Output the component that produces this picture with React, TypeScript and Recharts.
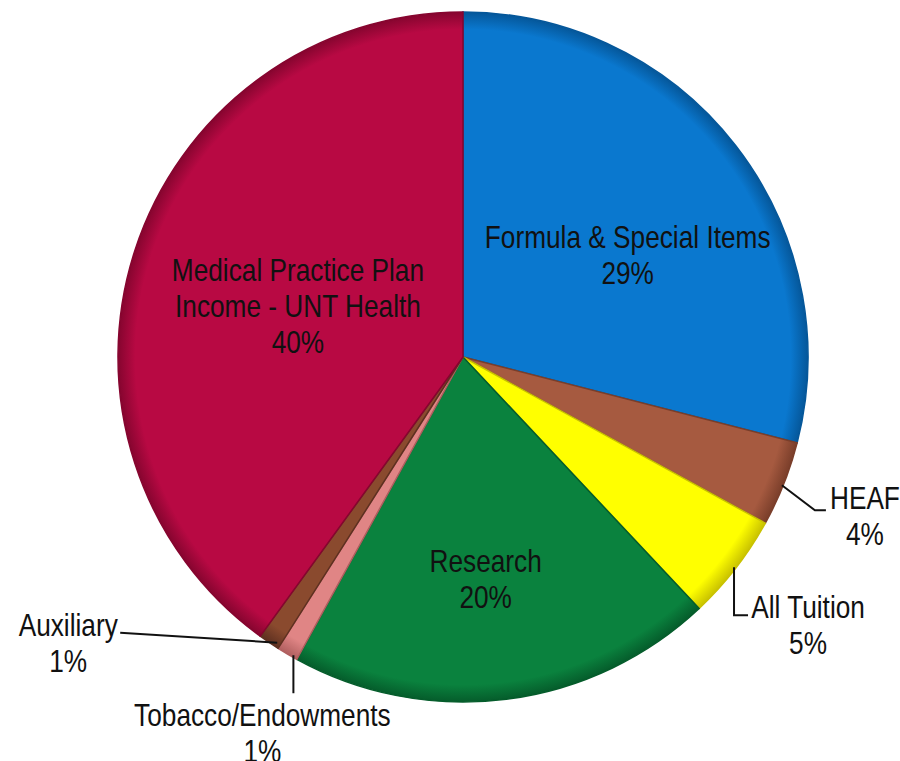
import { PieChart, Pie, Cell } from 'recharts'

const categories = ['Formula & Special Items', 'HEAF', 'All Tuition', 'Research', 'Tobacco/Endowments', 'Auxiliary', 'Medical Practice Plan Income - UNT Health']
const shares = [29, 4, 5, 20, 1, 1, 40]
const percentLabels = ['29%', '4%', '5%', '20%', '1%', '1%', '40%']
const labelLines = [['Formula & Special Items'], ['HEAF'], ['All Tuition'], ['Research'], ['Tobacco/Endowments'], ['Auxiliary'], ['Medical Practice Plan', 'Income - UNT Health']]

const colors = ['#0a78cf', '#a65a40', '#ffff00', '#0a823e', '#e08585', '#8a4a2e', '#b80943']
const edgeColors = ['#05579a', '#7a3e2a', '#c9c200', '#055c2b', '#b05f5f', '#5e3020', '#86052f']

const data = categories.map((name, i) => ({ name, value: shares[i] }))

const FONT = '"Liberation Sans", Arial, sans-serif'
const RAD = Math.PI / 180
const CX = 463
const CY = 357
const R = 345
const LINE_H = 36

// inside labels: radius factor plus a nudge
const insidePos: Record<number, { f: number; dx: number; dy: number }> = {
    0: { f: 0.56, dx: 12, dy: 16 },
    3: { f: 0.64, dx: -5, dy: 3 },
    6: { f: 0.5, dx: -1, dy: 2 },
}

function Label({ x, y, lines }: { x: number; y: number; lines: string[] }) {
    // narrow the face so it reads like Arial Narrow
    return (
        <g transform={`translate(${x},${y}) scale(0.82,1)`}>
            <text x={0} y={0} textAnchor="middle" dominantBaseline="central" style={{ fontFamily: FONT, fontSize: 32, fill: '#111' }}>
                {lines.map((l, k) => (
                    <tspan key={k} x={0} y={k * LINE_H}>{l}</tspan>
                ))}
            </text>
        </g>
    )
}

function renderLabel(props: any) {
    const { cx, cy, midAngle, outerRadius, index } = props
    const cos = Math.cos(-midAngle * RAD)
    const sin = Math.sin(-midAngle * RAD)
    const lines = [...labelLines[index], percentLabels[index]]

    const ins = insidePos[index]
    if (ins) {
        const r = outerRadius * ins.f
        const x = cx + r * cos + ins.dx
        const y = cy + r * sin + ins.dy
        const top = y - ((lines.length - 1) * LINE_H) / 2
        return <Label x={x} y={top} lines={lines} />
    }

    const sx = cx + (outerRadius - 2) * cos
    const sy = cy + (outerRadius - 2) * sin
    let path = ''
    let tx = 0
    let ty = 0
    if (index === 1) {
        path = `M${sx},${sy + 2} L${sx + 33},${sy + 27} L${sx + 44},${sy + 27}`
        tx = sx + 83; ty = sy + 15
    } else if (index === 2) {
        path = `M${sx},${sy} L${sx},${sy + 48} L${sx + 14},${sy + 48}`
        tx = sx + 74; ty = sy + 40
    } else if (index === 4) {
        path = `M${sx + 5},${sy + 3} L${sx + 5},${sy + 41}`
        tx = sx - 26; ty = sy + 63
    } else {
        path = `M${sx + 7},${sy + 2} L${sx - 150},${sy - 8}`
        tx = sx - 202; ty = sy - 16
    }
    return (
        <g>
            <path d={path} stroke="#111" strokeWidth={2} fill="none" />
            <Label x={tx} y={ty} lines={lines} />
        </g>
    )
}

export default function App() {
    return (
        <div style={{ position: 'absolute', left: 0, top: 0, width: 900, height: 761, background: '#fff' }}>
            <PieChart width={900} height={761} margin={{ top: 0, right: 0, bottom: 0, left: 0 }}>
                <defs>
                    {colors.map((c, i) => (
                        <radialGradient key={i} id={`slice${i}`} gradientUnits="userSpaceOnUse" cx={CX} cy={CY} r={R}>
                            <stop offset="0%" stopColor={c} />
                            <stop offset="95%" stopColor={c} />
                            <stop offset="100%" stopColor={edgeColors[i]} />
                        </radialGradient>
                    ))}
                </defs>
                <Pie
                    data={data}
                    dataKey="value"
                    nameKey="name"
                    cx={CX}
                    cy={CY}
                    outerRadius={R}
                    startAngle={90}
                    endAngle={-270}
                    label={renderLabel}
                    labelLine={false}
                    isAnimationActive={false}
                >
                    {data.map((d, i) => (
                        <Cell key={d.name} fill={`url(#slice${i})`} stroke={edgeColors[i]} strokeWidth={1.5} />
                    ))}
                </Pie>
            </PieChart>
        </div>
    )
}
